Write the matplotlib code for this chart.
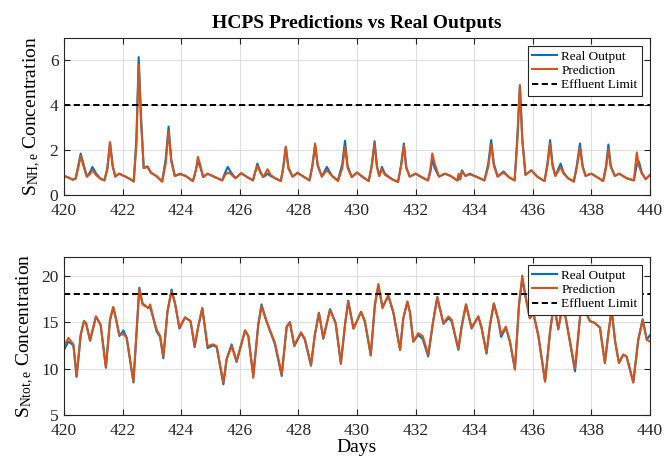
import matplotlib
matplotlib.use("Agg")
import matplotlib.pyplot as plt
import numpy as np

# ---------------------------------------------------------------------------
# Data (days, real output, prediction)
# ---------------------------------------------------------------------------

nh_days = [420.00, 420.15, 420.30, 420.40, 420.50, 420.57, 420.65, 420.78, 420.88, 420.97,
           421.10, 421.25, 421.38, 421.48, 421.57, 421.66, 421.75, 421.88, 422.05, 422.25,
           422.38, 422.47, 422.55, 422.63, 422.72, 422.85, 422.97, 423.15, 423.35, 423.47,
           423.57, 423.66, 423.78, 423.97, 424.15, 424.40, 424.50, 424.57, 424.65, 424.75,
           424.90, 425.15, 425.40, 425.50, 425.59, 425.68, 425.85, 426.05, 426.25, 426.45,
           426.52, 426.60, 426.70, 426.80, 426.95, 427.05, 427.20, 427.40, 427.48, 427.57,
           427.66, 427.80, 427.97, 428.20, 428.38, 428.48, 428.57, 428.66, 428.80, 428.97,
           429.15, 429.35, 429.50, 429.59, 429.68, 429.82, 430.00, 430.20, 430.40, 430.50,
           430.60, 430.68, 430.76, 430.85, 430.95, 431.20, 431.40, 431.50, 431.60, 431.68,
           431.80, 432.00, 432.20, 432.42, 432.50, 432.57, 432.65, 432.80, 433.00, 433.20,
           433.42, 433.47, 433.52, 433.58, 433.70, 433.85, 434.10, 434.35, 434.48, 434.58,
           434.67, 434.80, 435.00, 435.20, 435.38, 435.47, 435.56, 435.64, 435.75, 435.95,
           436.15, 436.40, 436.50, 436.59, 436.67, 436.77, 436.95, 437.05, 437.20, 437.40,
           437.50, 437.61, 437.70, 437.80, 438.00, 438.25, 438.40, 438.50, 438.58, 438.66,
           438.80, 438.95, 439.20, 439.45, 439.50, 439.55, 439.62, 439.72, 439.85, 440.00]
nh_real = [0.85, 0.78, 0.68, 0.75, 1.40, 1.85, 1.45, 0.82, 1.00, 1.25,
           0.95, 0.72, 0.65, 1.20, 2.35, 1.30, 0.82, 0.95, 0.85, 0.72,
           0.60, 2.50, 6.15, 3.50, 1.20, 1.28, 1.00, 0.85, 0.60, 1.60,
           3.05, 1.60, 0.85, 0.95, 0.85, 0.62, 1.10, 1.50, 1.25, 0.80,
           0.95, 0.80, 0.65, 1.00, 1.25, 1.05, 0.75, 0.97, 0.80, 0.65,
           1.00, 1.40, 1.05, 0.80, 0.95, 0.85, 0.75, 0.62, 1.20, 2.15,
           1.20, 0.82, 1.00, 0.80, 0.65, 1.30, 2.20, 1.30, 0.82, 1.25,
           0.85, 0.65, 1.40, 2.42, 1.30, 0.80, 1.00, 0.80, 0.62, 1.30,
           2.40, 1.30, 0.85, 1.25, 0.95, 0.70, 0.58, 1.30, 2.30, 1.25,
           0.82, 0.95, 0.80, 0.65, 1.00, 1.60, 1.20, 0.82, 0.95, 0.85,
           0.65, 0.70, 0.70, 1.10, 0.85, 0.95, 0.80, 0.65, 1.40, 2.45,
           1.40, 0.82, 1.05, 0.78, 0.65, 2.50, 4.90, 2.50, 0.90, 1.10,
           0.82, 0.62, 1.40, 2.45, 1.40, 0.85, 1.40, 1.00, 0.75, 0.60,
           1.30, 2.30, 1.30, 0.85, 0.95, 0.75, 0.62, 1.30, 2.25, 1.30,
           0.85, 0.95, 0.75, 0.65, 1.00, 1.35, 1.50, 1.00, 0.70, 0.90]
nh_pred = [0.85, 0.78, 0.68, 0.72, 1.30, 1.75, 1.35, 0.82, 0.92, 1.10,
           0.88, 0.72, 0.65, 1.15, 2.35, 1.30, 0.82, 0.95, 0.85, 0.72,
           0.60, 2.20, 5.80, 3.20, 1.20, 1.25, 0.98, 0.85, 0.60, 1.40,
           2.85, 1.50, 0.85, 0.92, 0.85, 0.62, 1.10, 1.70, 1.35, 0.80,
           0.95, 0.80, 0.65, 0.90, 1.00, 0.95, 0.75, 0.97, 0.80, 0.65,
           1.00, 1.30, 1.00, 0.80, 1.15, 0.90, 0.75, 0.62, 1.20, 2.15,
           1.20, 0.82, 0.97, 0.80, 0.65, 1.35, 2.30, 1.35, 0.82, 1.10,
           0.85, 0.62, 1.20, 2.16, 1.20, 0.80, 1.00, 0.80, 0.62, 1.25,
           2.30, 1.25, 0.85, 1.15, 0.90, 0.70, 0.58, 1.25, 2.20, 1.20,
           0.82, 0.95, 0.80, 0.65, 1.10, 1.85, 1.40, 0.82, 0.95, 0.85,
           0.65, 0.95, 0.70, 1.05, 0.85, 0.92, 0.80, 0.65, 1.25, 2.25,
           1.30, 0.82, 1.00, 0.78, 0.65, 2.40, 4.87, 2.50, 0.90, 1.10,
           0.82, 0.62, 1.30, 2.30, 1.30, 0.85, 1.25, 0.95, 0.75, 0.60,
           1.20, 2.10, 1.25, 0.85, 0.95, 0.75, 0.62, 1.20, 2.05, 1.25,
           0.85, 0.95, 0.75, 0.65, 1.30, 1.90, 1.30, 0.95, 0.72, 0.88]
nh_limit = 4

nt_days = [420.00, 420.15, 420.32, 420.43, 420.57, 420.68, 420.75, 420.89, 421.09, 421.25,
           421.43, 421.57, 421.68, 421.77, 421.89, 422.03, 422.14, 422.37, 422.57, 422.68,
           422.88, 422.94, 423.05, 423.16, 423.28, 423.39, 423.53, 423.67, 423.79, 423.94,
           424.13, 424.32, 424.46, 424.58, 424.72, 424.90, 425.09, 425.21, 425.44, 425.55,
           425.72, 425.89, 426.18, 426.29, 426.46, 426.63, 426.74, 426.91, 427.20, 427.43,
           427.60, 427.71, 427.86, 428.09, 428.22, 428.43, 428.56, 428.70, 428.85, 429.08,
           429.27, 429.45, 429.59, 429.70, 429.88, 430.14, 430.27, 430.47, 430.61, 430.73,
           430.87, 431.07, 431.24, 431.47, 431.58, 431.72, 431.81, 431.92, 432.09, 432.24,
           432.43, 432.60, 432.74, 432.95, 433.12, 433.23, 433.46, 433.57, 433.72, 433.91,
           434.14, 434.25, 434.42, 434.54, 434.67, 434.82, 434.92, 435.08, 435.22, 435.39,
           435.53, 435.64, 435.76, 435.90, 436.02, 436.19, 436.42, 436.59, 436.72, 436.87,
           437.00, 437.12, 437.44, 437.62, 437.73, 437.95, 438.12, 438.29, 438.46, 438.58,
           438.69, 438.81, 438.94, 439.09, 439.20, 439.43, 439.60, 439.75, 439.89, 440.00]
nt_real = [12.0, 12.9, 12.5, 9.1, 13.6, 15.1, 14.9, 13.0, 15.6, 14.7,
           10.1, 15.2, 16.6, 15.4, 13.5, 14.1, 13.3, 8.5, 18.7, 17.0,
           16.5, 16.6, 15.4, 14.0, 13.4, 11.1, 16.1, 18.5, 17.0, 14.3,
           15.5, 15.1, 12.3, 14.5, 16.5, 12.2, 12.5, 12.3, 8.3, 11.0,
           12.6, 10.7, 14.1, 13.5, 9.3, 14.7, 16.9, 15.1, 12.6, 9.2,
           14.5, 15.0, 12.4, 13.8, 13.1, 10.3, 13.6, 16.0, 13.2, 16.4,
           14.9, 10.5, 14.7, 17.3, 14.3, 16.1, 15.0, 11.4, 16.8, 18.9,
           16.6, 17.8, 16.0, 12.0, 15.4, 17.2, 16.0, 12.9, 13.6, 13.2,
           11.3, 15.1, 17.7, 14.8, 15.4, 15.1, 12.0, 14.5, 16.9, 14.3,
           15.6, 14.4, 11.6, 14.7, 17.0, 15.2, 13.4, 14.4, 12.9, 9.9,
           16.9, 19.6, 17.6, 15.4, 16.0, 13.5, 8.6, 14.0, 17.0, 14.2,
           16.5, 15.5, 9.7, 15.8, 16.6, 15.1, 14.9, 14.4, 10.6, 13.8,
           16.3, 12.9, 10.6, 11.5, 11.3, 8.5, 13.1, 15.3, 13.1, 13.6]
nt_pred = [12.4, 13.3, 12.6, 9.2, 13.6, 15.1, 14.9, 13.0, 15.6, 14.7,
           10.1, 15.25, 16.6, 15.4, 13.6, 13.7, 13.3, 8.6, 18.6, 16.9,
           16.5, 16.9, 15.4, 14.2, 13.5, 11.3, 16.1, 18.3, 17.0, 14.4,
           15.5, 15.1, 12.4, 14.5, 16.5, 12.4, 12.6, 12.4, 8.5, 11.0,
           12.4, 10.8, 14.1, 13.5, 9.0, 14.7, 16.7, 15.1, 12.75, 9.4,
           14.5, 14.9, 12.5, 13.9, 13.2, 10.4, 13.6, 16.0, 13.3, 16.3,
           14.9, 10.6, 14.7, 17.2, 14.3, 16.1, 15.1, 11.5, 16.9, 19.1,
           16.5, 17.9, 16.1, 12.0, 15.4, 17.2, 16.0, 12.9, 13.8, 13.5,
           11.5, 15.1, 17.6, 14.9, 15.6, 15.25, 12.1, 14.5, 16.9, 14.4,
           15.6, 14.4, 11.7, 14.7, 17.0, 15.3, 13.7, 14.5, 12.9, 9.9,
           16.9, 20.0, 17.6, 15.4, 16.0, 13.5, 8.6, 14.0, 16.8, 14.3,
           16.4, 15.5, 10.0, 15.8, 16.6, 15.1, 14.9, 14.4, 10.6, 13.8,
           16.3, 12.9, 10.6, 11.5, 11.3, 8.5, 13.1, 15.2, 13.1, 12.9]
nt_limit = 18

x_ticks = np.arange(420, 441, 2)

# ---------------------------------------------------------------------------
# Style (MATLAB-like look)
# ---------------------------------------------------------------------------

plt.rcParams["font.family"] = ["Liberation Serif", "DejaVu Serif"]
plt.rcParams["mathtext.fontset"] = "custom"
plt.rcParams["mathtext.rm"] = "Liberation Serif"
plt.rcParams["mathtext.it"] = "Liberation Serif:italic"

BLUE = "#0072BD"
ORANGE = "#D95319"
AX_COL = "#262626"


def style_axes(ax, ylim, yticks):
    ax.set_xlim(420, 440)
    ax.set_ylim(*ylim)
    ax.set_xticks(x_ticks)
    ax.set_yticks(yticks)
    ax.grid(True, color="#dedede", linewidth=0.8)
    ax.set_axisbelow(True)
    ax.tick_params(direction="in", length=4, width=0.8, top=True, right=True,
                   labelsize=12.5, colors=AX_COL, pad=4)
    ax.tick_params(axis="x", pad=6)
    for sp in ax.spines.values():
        sp.set_color(AX_COL)
        sp.set_linewidth(0.8)


def draw_panel(ax, days, real, pred, limit):
    ax.plot(days, real, color=BLUE, linewidth=1.5, label="Real Output")
    ax.plot(days, pred, color=ORANGE, linewidth=1.5, label="Prediction")
    ax.axhline(limit, color="black", linewidth=1.4, dashes=(3.2, 1.8),
               label="Effluent Limit")
    leg = ax.legend(loc="upper right", fontsize=9.5, fancybox=False,
                    edgecolor=AX_COL, framealpha=1, borderaxespad=0.6,
                    handlelength=1.9, handletextpad=0.3, labelspacing=0.15,
                    borderpad=0.35)
    leg.get_frame().set_linewidth(0.8)


fig = plt.figure(figsize=(6.65, 4.61), dpi=100)
ax1 = fig.add_axes([64 / 665, 1 - 195 / 461, 586 / 665, 157 / 461])
ax2 = fig.add_axes([64 / 665, 1 - 415 / 461, 586 / 665, 158 / 461])

draw_panel(ax1, nh_days, nh_real, nh_pred, nh_limit)
style_axes(ax1, (0, 7), [0, 2, 4, 6])
ax1.set_title("HCPS Predictions vs Real Outputs", fontsize=14, fontweight="bold",
              pad=7)
ax1.set_ylabel(r"S$_{\mathrm{NH,e}}$ Concentration", fontsize=14)
ax1.yaxis.set_label_coords(-0.036, 0.5)

draw_panel(ax2, nt_days, nt_real, nt_pred, nt_limit)
style_axes(ax2, (5, 22), [5, 10, 15, 20])
ax2.set_ylabel(r"S$_{\mathrm{Ntot,e}}$ Concentration", fontsize=14)
ax2.yaxis.set_label_coords(-0.047, 0.5)
ax2.set_xlabel("Days", fontsize=14, labelpad=0)

fig.savefig("out.png", dpi=100)
plt.close(fig)
